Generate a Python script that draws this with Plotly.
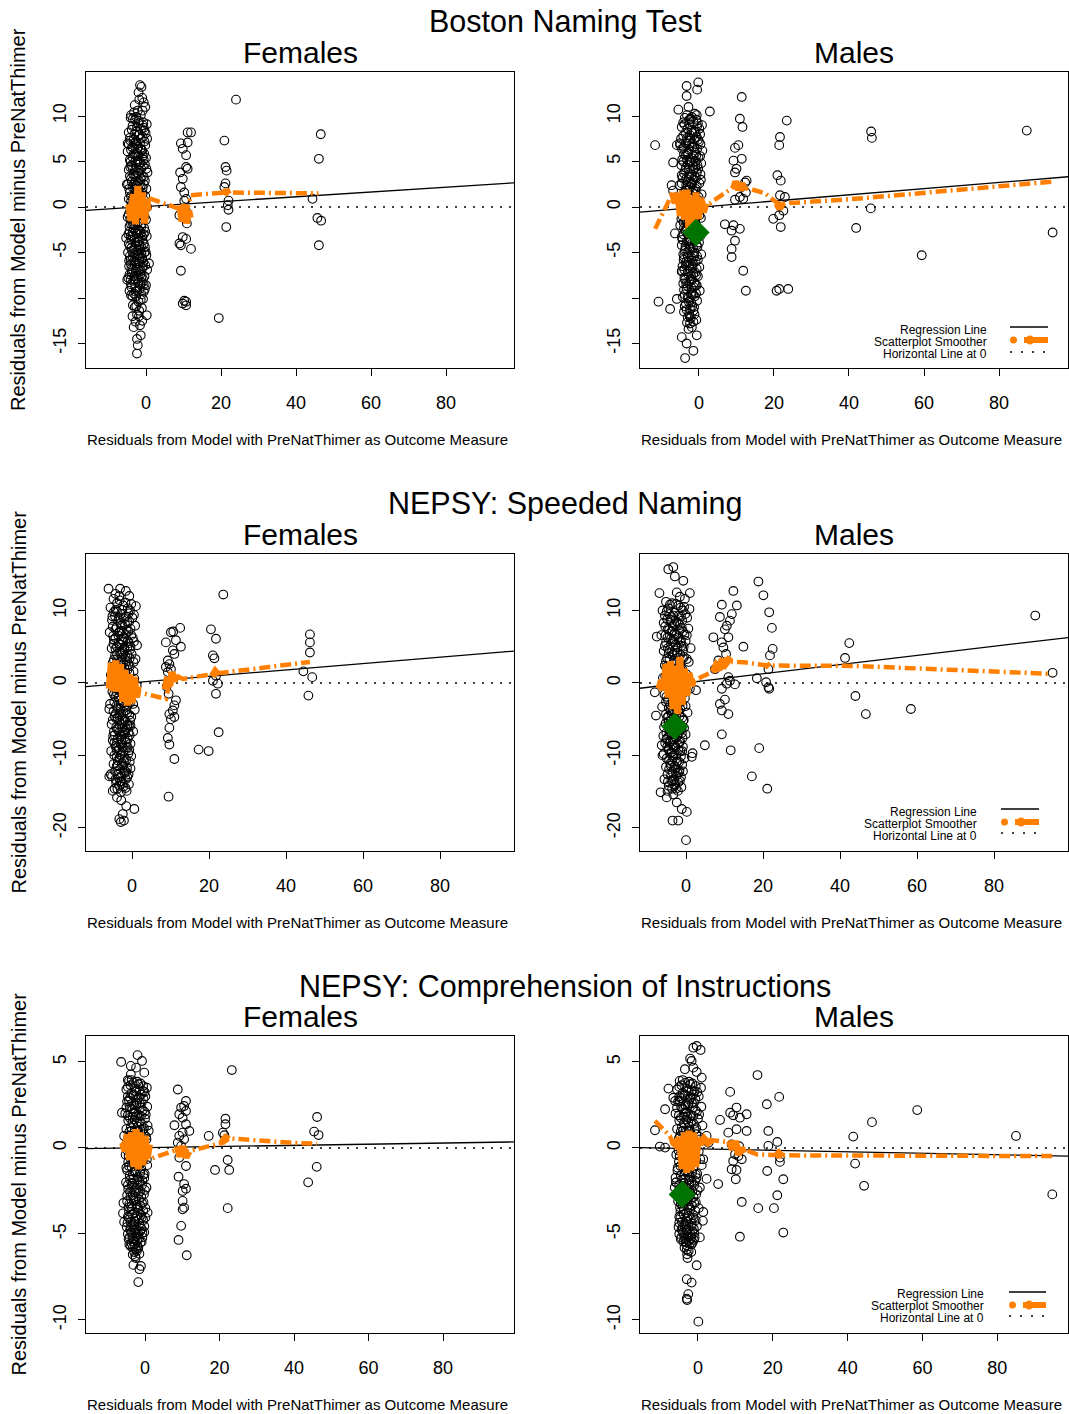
import plotly.graph_objects as go

W, H = 1069, 1414
FONT = "Liberation Sans, Arial, Helvetica, sans-serif"
ORANGE = "#FF8000"
GREEN = "#007300"

# ---------------------------------------------------------------------------
# Residual pairs: x = residual from model with PreNatThimer as outcome,
#                 y = residual from outcome model without PreNatThimer
# ---------------------------------------------------------------------------
bnt_f_pts = [
    (-1.6, 13.4), (-1.2, 13.2), (-2.0, 12.6), (-1.0, 12.0), (-1.8, 11.8), (-0.6, 11.5), (-0.2, 11.0), (-3.2, 10.4), (-1.4, 10.1), (-2.6, 9.9),
    (-4.1, 9.8), (-2.9, 9.6), (-1.9, 9.5), (-0.7, 9.3), (0.2, 9.1), (-3.6, 8.9), (-2.4, 8.8), (-1.3, 8.6), (-0.4, 8.4), (-4.6, 8.2),
    (-3.1, 8.0), (-2.0, 7.9), (-0.9, 7.7), (0.3, 7.5), (-4.2, 7.3), (-2.7, 7.2), (-1.6, 7.0), (-0.2, 6.8), (-3.7, 6.6), (-2.3, 6.4),
    (-1.2, 6.3), (-4.9, 6.1), (-0.5, 5.9), (-3.3, 5.8), (-2.0, 5.6), (0.0, 5.4), (-4.3, 5.2), (-2.8, 5.1), (-1.5, 4.9), (-3.9, 4.6),
    (-0.8, 4.5), (-2.5, 4.3), (-4.6, 4.1), (-1.8, 4.0), (0.4, 3.8), (-3.4, 3.6), (-1.1, 3.4), (-2.9, 3.3), (-4.0, 3.1), (-0.3, 2.9),
    (-2.2, 2.7), (-4.8, 2.5), (-1.4, 2.4), (-3.6, 2.2), (0.1, 2.0), (-2.6, 1.8), (-4.3, 1.6), (-0.9, 1.5), (-3.1, 1.3), (-1.9, 1.1),
    (-4.6, 0.9), (-0.4, 0.7), (-2.7, 0.5), (-3.8, 0.3), (-1.3, 0.2), (0.3, 0.0), (-2.2, -0.2), (-4.2, -0.4), (-0.8, -0.5), (-3.3, -0.7),
    (-1.7, -0.9), (-4.9, -1.1), (-2.6, -1.2), (0.0, -1.4), (-3.7, -1.6), (-1.1, -1.8), (-2.9, -2.0), (-4.4, -2.1), (-0.5, -2.3), (-2.0, -2.5),
    (-3.5, -2.7), (-1.4, -2.9), (-4.7, -3.0), (0.2, -3.2), (-2.4, -3.4), (-3.9, -3.6), (-0.9, -3.7), (-2.8, -3.9), (-1.8, -4.1), (-4.3, -4.3),
    (-0.3, -4.4), (-3.2, -4.6), (-2.1, -4.8), (-4.8, -5.0), (-1.2, -5.1), (0.1, -5.3), (-3.6, -5.5), (-2.5, -5.7), (-4.1, -5.8), (-0.7, -6.0),
    (-1.9, -6.2), (-3.0, -6.4), (-4.5, -6.5), (-1.0, -6.7), (0.3, -6.9), (-2.7, -7.1), (-3.8, -7.2), (-1.5, -7.4), (-0.4, -7.6), (-4.7, -7.8),
    (-2.3, -7.9), (-3.4, -8.1), (-1.1, -8.3), (-4.0, -8.5), (0.0, -8.6), (-2.9, -8.8), (-1.7, -9.0), (-4.4, -9.2), (-0.6, -9.3), (-3.2, -9.5),
    (-4.9, 7.0), (-5.1, 2.5), (-5.3, -3.4), (0.8, -6.2), (-5.0, -8.0),
    (-4.0, -9.7), (-0.8, -10.1), (-3.5, -10.8), (-1.8, -11.4), (0.2, -11.9), (-2.8, -12.6), (-1.6, -13.0), (-1.4, -14.1), (-2.4, -14.5), (-2.2, -15.2), (-2.4, -16.1),
    (11.1, 8.2), (12.0, 8.2), (9.3, 7.0), (9.8, 6.4), (11.1, 7.1), (10.7, 5.7), (10.7, 4.4), (11.1, 4.2), (9.1, 3.8), (9.8, 3.1),
    (9.3, 2.2), (10.2, 1.6), (10.7, 0.9), (10.2, 0.7), (8.9, -0.9), (10.7, -0.5), (10.2, -1.2), (10.9, -1.8), (9.8, -3.3), (10.7, -3.5),
    (8.9, -4.0), (9.3, -4.2), (12.0, -4.6), (9.3, -7.0), (10.2, -10.3), (10.7, -10.4), (9.8, -10.6), (10.7, -10.8),
    (24.0, 11.8), (20.9, 7.3), (21.2, 4.4), (21.5, 4.0), (21.2, 2.6), (20.9, 2.2), (22.0, 0.7), (21.8, 0.2), (22.0, -0.3), (21.4, -2.2), (19.4, -12.2),
    (46.6, 8.0), (46.1, 5.3), (44.4, 0.9), (45.7, -1.2), (46.7, -1.5), (46.1, -4.2),
]
bnt_f_core = [
    (-3.5, 9.7), (-0.9, 9.0), (-2.6, 8.3), (-4.3, 7.6), (-1.4, 7.5), (-0.1, 8.1), (-3.0, 7.0), (-2.1, 6.6), (-4.6, 6.9), (-1.0, 6.2),
    (-3.6, 5.5), (-2.4, 5.9), (-0.6, 5.2), (-1.8, 4.7), (-4.2, 4.4), (-3.0, 4.0), (0.1, 4.2), (-2.1, 3.7), (-1.4, 3.1), (-3.8, 2.8),
    (-0.6, 2.5), (-2.9, 2.0), (-4.5, 2.0), (-1.7, 1.7), (-3.4, 1.0), (-0.2, 1.2), (-2.3, 0.9), (-4.0, 0.6), (-1.0, 0.4), (-3.0, -0.1),
    (-1.9, -0.5), (-4.6, -0.8), (-0.4, -1.0), (-3.0, -1.4), (-2.2, -1.7), (-4.0, -1.9), (-1.3, -2.2), (-3.3, -2.4), (-0.2, -2.7), (-2.5, -2.9),
    (-4.1, -3.2), (-1.0, -3.3), (-3.1, -3.5), (-1.9, -3.7), (-4.6, -4.0), (-0.6, -4.0), (-2.7, -4.3), (-3.7, -4.8), (-1.5, -4.7), (-0.1, -4.9),
    (-2.2, -5.3), (-4.3, -5.4), (-1.0, -5.6), (-3.2, -5.9), (-1.8, -6.0), (-4.0, -6.3), (-0.2, -6.4), (-2.5, -6.7), (-3.5, -6.9), (-1.3, -7.0),
    (-4.4, -7.4), (-2.0, -7.6), (-0.8, -7.9), (-3.0, -8.0), (-1.5, -8.5), (-3.9, -8.8), (-2.3, -9.2), (-0.3, -9.0), (-1.2, -9.6), (-2.6, -9.8),
    (-3.0, 11.2), (-2.2, 10.6), (-0.9, 10.6), (-4.0, 10.1), (-2.0, -10.4), (-3.0, -11.0), (-1.1, -11.1), (-2.4, -11.8), (-3.6, -12.0), (-1.0, -12.5),
]
bnt_f_inner = [
    (-2.0, 9.2), (-3.8, 8.5), (-0.6, 8.7), (-1.7, 8.0), (-3.3, 7.4), (-0.4, 7.2), (-2.5, 6.9), (-4.0, 6.3), (-1.5, 6.4), (-2.9, 5.7),
    (-0.9, 5.6), (-4.1, 5.0), (-2.2, 5.0), (-0.3, 4.7), (-3.5, 4.2), (-1.3, 4.2), (-2.6, 3.5), (-4.3, 3.4), (-0.6, 3.3), (-1.9, 2.9),
    (-3.2, 2.5), (-0.9, 2.1), (-2.5, 2.3), (-4.0, 1.2), (-1.5, 1.3), (-2.9, 0.8), (-0.5, 0.3), (-3.6, -0.3), (-1.5, -0.3), (-2.6, -0.7),
    (-4.2, -1.3), (-0.9, -1.3), (-3.4, -2.0), (-1.7, -2.6), (-2.8, -2.7), (-4.4, -2.7), (-0.6, -3.0), (-3.6, -3.2), (-2.2, -3.8), (-1.3, -4.4),
    (-3.9, -4.5), (-0.4, -5.0), (-2.9, -5.2), (-1.6, -5.5), (-4.5, -5.9), (-2.9, -6.0), (-0.8, -6.5), (-2.1, -6.9), (-3.9, -6.8), (-1.2, -7.7),
    (-3.1, -7.6), (-2.0, -8.3), (-4.1, -8.0), (-0.6, -8.5), (-2.7, -9.3), (-3.6, -9.8), (-1.4, -10.2), (-2.6, -10.9), (-1.9, -12.0), (-3.3, -13.2),
]

bnt_m_pts = [
    (-3.3, 13.3), (-0.2, 13.7), (-0.5, 12.9), (-3.3, 12.2), (-5.5, 10.7), (-2.8, 11.0), (2.9, 10.5), (-1.1, 10.25), (-0.6, 10.1),
    (-3.8, 9.8), (-2.6, 9.6), (-1.5, 9.4), (-0.3, 9.2), (0.8, 9.0), (-4.6, 8.8), (-3.1, 8.6), (-2.0, 8.4), (-0.9, 8.2), (0.3, 8.0),
    (-4.2, 7.8), (-2.4, 7.6), (-1.2, 7.4), (0.0, 7.2), (-3.5, 7.0), (-5.0, 6.8), (-1.8, 6.6), (-0.5, 6.4), (0.9, 6.2), (-2.9, 6.0),
    (-4.0, 5.8), (-1.4, 5.6), (-0.1, 5.4), (-3.2, 5.2), (-2.2, 5.0), (0.6, 4.8), (-4.7, 4.6), (-1.0, 4.4), (-2.7, 4.2), (-3.7, 4.0),
    (-0.6, 3.8), (0.4, 3.6), (-2.0, 3.4), (-4.4, 3.2), (-1.4, 3.0), (-3.0, 2.8), (0.1, 2.6), (-5.2, 2.4), (-2.4, 2.2), (-0.9, 2.0),
    (-3.6, 1.8), (-1.7, 1.6), (0.7, 1.4), (-4.1, 1.2), (-2.6, 1.0), (-0.3, 0.8), (-3.1, 0.6), (-1.2, 0.4), (-4.8, 0.2), (0.2, 0.0),
    (-2.1, -0.2), (-3.9, -0.4), (-0.7, -0.6), (-1.6, -0.8), (-4.4, -1.0), (0.5, -1.2), (-2.8, -1.4), (-3.4, -1.6), (-1.0, -1.8), (-5.0, -2.0),
    (-2.3, -2.2), (-0.2, -2.4), (-3.7, -2.6), (-1.5, -2.8), (-4.2, -3.0), (0.3, -3.2), (-2.7, -3.4), (-0.8, -3.6), (-3.3, -3.8), (-1.9, -4.0),
    (-4.6, -4.2), (-0.4, -4.4), (-2.5, -4.6), (-3.8, -4.8), (-1.2, -5.0), (0.6, -5.2), (-3.0, -5.4), (-2.0, -5.6), (-4.1, -5.8), (-0.9, -6.0),
    (-1.6, -6.2), (-3.5, -6.4), (0.1, -6.6), (-2.4, -6.8), (-4.5, -7.0), (-1.0, -7.2), (-2.9, -7.4), (-0.3, -7.6), (-3.9, -7.8), (-1.9, -8.0),
    (-2.6, -8.2), (-4.2, -8.4), (-0.6, -8.6), (-1.4, -8.8), (-3.3, -9.0), (0.2, -9.2), (-2.1, -9.4), (-3.8, -9.6), (-1.1, -9.8), (-2.8, -10.0),
    (-0.5, -10.3), (-3.5, -10.6), (-1.8, -10.9), (-2.4, -11.2), (-4.0, -11.5), (-1.2, -11.8), (-3.0, -12.1), (-0.7, -12.4), (-2.2, -12.2), (-1.5, -12.6),
    (-11.7, 6.8), (-6.9, 4.9), (-5.9, 6.8), (-5.1, 7.0), (-7.3, 2.4), (-6.9, 1.8), (-6.4, -2.9), (-4.6, -7.1), (-5.9, -10.1), (-10.8, -10.4), (-7.7, -11.2),
    (-2.4, -12.8), (-2.8, -13.4), (-4.6, -14.3), (-0.6, -14.1), (-3.3, -15.0), (-1.5, -15.8), (-3.7, -16.6),
    (11.4, 12.1), (10.9, 9.7), (11.6, 8.8), (10.5, 6.8), (9.6, 6.5), (9.2, 5.1), (11.4, 5.3), (10.0, 4.2), (9.6, 3.8), (12.7, 2.9),
    (12.3, 2.7), (11.4, 2.2), (12.5, 1.6), (9.6, 0.8), (11.8, 0.9), (10.9, 1.1), (6.9, -1.9), (9.2, -2.0), (10.9, -2.4), (8.7, -2.6),
    (9.6, -3.7), (8.7, -4.6), (8.7, -5.5), (11.8, -7.0), (12.5, -9.2),
    (23.4, 9.5), (21.6, 7.7), (21.4, 6.8), (20.9, 3.5), (21.8, 2.9), (21.6, 1.3), (22.9, 1.1), (22.5, -0.4), (21.4, -0.9), (19.8, -1.3),
    (21.8, -2.2), (20.7, -9.2), (21.4, -9.0), (23.8, -9.0),
    (41.9, -2.3), (45.9, 8.3), (46.1, 7.6), (45.8, -0.15), (59.4, -5.3), (87.4, 8.4), (94.3, -2.8),
]
bnt_m_core = [
    (-3.2, 10.1), (-1.9, 9.9), (-0.7, 9.6), (-4.2, 9.3), (-2.6, 9.1), (0.1, 8.6), (-1.3, 8.3), (-3.6, 8.1), (-2.4, 7.9), (-4.8, 7.5),
    (-0.6, 7.7), (-3.0, 7.3), (-1.8, 7.0), (0.4, 6.9), (-4.1, 6.5), (-2.6, 6.3), (-1.0, 6.0), (-3.5, 5.7), (0.3, 5.6), (-2.0, 5.4),
    (-4.5, 5.2), (-0.9, 5.0), (-3.0, 4.7), (-1.7, 4.5), (-0.2, 4.2), (-4.0, 3.7), (-2.6, 3.6), (-1.1, 3.3), (-3.4, 3.1), (0.5, 3.0),
    (-2.0, 2.7), (-4.6, 2.6), (-0.6, 2.3), (-3.2, 2.1), (-1.5, 1.8), (-4.0, 1.6), (-2.3, 1.3), (-0.1, 1.1), (-3.6, 0.9), (-1.8, 0.7),
    (-4.3, 0.5), (-0.8, 0.3), (-2.7, 0.1), (-1.3, -0.4), (-3.2, -0.7), (0.1, -0.9), (-2.2, -1.1), (-4.7, -1.3), (-1.0, -1.5), (-3.0, -1.9),
    (-2.0, -2.4), (-4.0, -2.3), (-0.6, -2.9), (-3.0, -3.0), (-1.2, -3.3), (-4.4, -3.6), (-2.3, -3.8), (0.0, -3.9), (-3.6, -4.3), (-1.6, -4.5),
    (-2.9, -5.0), (-4.2, -5.2), (-0.5, -5.4), (-1.9, -5.9), (-3.4, -6.0), (-2.6, -6.4), (-0.6, -6.8), (-3.9, -6.9), (-1.5, -7.3), (-2.2, -7.9),
    (-3.4, -8.4), (-0.9, -8.6), (-2.0, -8.9), (-4.0, -9.1), (-1.6, -9.6), (-3.0, -9.9), (-2.1, -10.5), (-3.3, -11.3), (-1.3, -11.0), (-2.6, -11.7),
]
bnt_m_inner = [
    (-2.2, 9.7), (-3.9, 9.1), (-0.5, 8.9), (-1.8, 8.2), (-3.2, 7.6), (-0.3, 7.4), (-2.5, 7.0), (-4.5, 6.4), (-1.3, 6.6), (-3.1, 5.9),
    (-0.7, 5.7), (-4.2, 5.0), (-2.4, 4.9), (-0.4, 4.6), (-3.5, 4.3), (-1.4, 4.1), (-2.7, 3.3), (-4.6, 3.5), (-0.8, 3.2), (-1.9, 2.5),
    (-3.4, 2.4), (-0.9, 1.7), (-2.7, 1.9), (-4.4, 1.0), (-1.5, 1.1), (-3.0, 0.3), (-0.5, 0.1), (-3.8, -0.7), (-1.7, -0.4), (-2.5, -1.1),
    (-4.1, -1.7), (-0.8, -2.0), (-3.3, -2.3), (-1.8, -2.6), (-2.9, -3.7), (-4.6, -3.3), (-0.6, -4.2), (-3.6, -4.6), (-2.2, -4.4), (-1.3, -5.4),
    (-4.0, -5.5), (-0.3, -5.8), (-2.9, -6.1), (-1.7, -6.6), (-4.4, -6.5), (-3.0, -7.1), (-0.8, -7.5), (-2.1, -7.6), (-3.7, -8.0), (-1.2, -8.3),
    (-3.0, -8.7), (-2.1, -9.6), (-4.3, -9.9), (-0.8, -9.5), (-2.7, -10.4), (-3.8, -10.9), (-1.5, -11.4), (-2.5, -12.0), (-3.2, -12.7), (-1.9, -13.2),
]

sn_f_pts = [
    (-6.1, 13.0), (-3.1, 13.0), (-1.6, 12.7), (-0.7, 12.0), (-3.3, 12.0), (-4.3, 12.3),
    (-4.8, 11.6), (-3.2, 11.4), (-1.7, 11.1), (-0.2, 10.9), (1.0, 10.6), (-5.6, 10.4), (-2.5, 10.1), (-3.9, 9.9), (-0.9, 9.6), (0.5, 9.4),
    (-4.4, 9.2), (-2.1, 8.9), (-5.2, 8.7), (-1.2, 8.4), (-3.0, 8.2), (0.8, 7.9), (-4.0, 7.7), (-0.4, 7.5), (-2.7, 7.2), (-5.8, 7.0),
    (-1.6, 6.7), (-3.5, 6.5), (0.2, 6.2), (-4.7, 6.0), (-2.3, 5.7), (-0.8, 5.5), (1.3, 5.2), (-3.9, 5.0), (-5.3, 4.8), (-1.9, 4.5),
    (-3.1, 4.3), (-0.1, 4.0), (-4.4, 3.8), (-2.6, 3.5), (0.9, 3.3), (-1.3, 3.0), (-5.0, 2.8), (-3.6, 2.6), (-0.6, 2.3), (-2.0, 2.1),
    (-4.1, 1.8), (0.4, 1.6), (-2.8, 1.3), (-5.5, 1.1), (-1.5, 0.8), (-3.3, 0.6), (-0.3, 0.3), (-4.6, 0.1), (-2.2, -0.2), (1.2, -0.4),
    (-3.8, -0.7), (-1.0, -0.9), (-5.1, -1.2), (-2.5, -1.4), (0.1, -1.7), (-4.3, -1.9), (-1.8, -2.2), (-3.1, -2.4), (-0.5, -2.7), (-5.7, -2.9),
    (-2.0, -3.2), (-3.6, -3.4), (0.7, -3.7), (-4.8, -3.9), (-1.3, -4.2), (-2.8, -4.4), (-0.2, -4.7), (-4.1, -4.9), (-3.3, -5.2), (-1.6, -5.4),
    (-5.3, -5.7), (-0.8, -5.9), (-2.4, -6.2), (-3.9, -6.4), (0.3, -6.7), (-1.9, -6.9), (-4.5, -7.2), (-3.0, -7.4), (-1.1, -7.7), (-5.0, -7.9),
    (-2.6, -8.2), (-0.4, -8.4), (-4.2, -8.7), (-1.6, -8.9), (-3.4, -9.2), (-5.4, -9.4), (-0.9, -9.7), (-2.9, -9.9), (-4.0, -10.2), (-1.9, -10.4),
    (-3.7, -10.7), (-0.6, -10.9), (-4.8, -11.2), (-2.3, -11.4), (-1.3, -11.7), (-3.1, -11.9), (-4.4, -12.2), (-2.0, -12.4), (-0.9, -12.6), (-5.2, -12.9),
    (-3.4, -13.1), (-1.6, -13.3), (-2.7, -13.6), (-4.1, -13.8), (-0.8, -14.0), (-2.2, -14.3), (-3.8, -14.6), (-1.4, -14.9),
    (-5.9, -3.6), (-5.5, -12.6), (-5.9, -12.9),
    (-5.0, -14.9), (-3.9, -15.8), (-2.8, -16.2), (-1.5, -17.0), (0.6, -17.4), (-2.4, -18.1), (-3.3, -18.8), (-2.1, -19.0), (-2.9, -19.2),
    (12.5, 7.6), (10.7, 7.1), (10.1, 7.0), (8.8, 5.6), (11.4, 5.9), (12.7, 5.0), (10.6, 4.5), (11.0, 4.0), (9.3, 3.1), (9.7, 2.6),
    (8.8, 2.2), (10.1, 1.9), (9.3, 1.5), (9.0, -0.5), (9.5, -1.5), (11.4, -2.4), (11.0, -3.1), (10.6, -3.8), (9.7, -4.3), (11.0, -4.7),
    (10.1, -5.0), (9.7, -6.2), (9.3, -7.6), (9.7, -8.5), (11.0, -10.5), (9.5, -15.7),
    (23.7, 12.2), (20.5, 7.4), (21.8, 6.1), (21.0, 3.8), (21.4, 3.4), (21.8, 1.0), (21.0, 0.3), (22.3, -0.1), (21.8, -1.5), (22.5, -6.8),
    (17.3, -9.2), (19.9, -9.4),
    (46.2, 6.7), (46.2, 5.6), (46.2, 4.2), (44.5, 1.6), (46.8, 0.8), (45.8, -1.75),
]
sn_f_core = [
    (-3.9, 11.0), (-1.1, 10.3), (-4.7, 9.8), (-2.9, 9.5), (0.1, 9.0), (-3.6, 8.6), (-1.8, 8.1), (-5.0, 7.8), (-0.9, 7.1), (-3.3, 6.9),
    (-2.1, 6.3), (-4.3, 6.2), (0.5, 5.7), (-1.2, 5.0), (-3.1, 5.3), (-4.8, 5.4), (-2.4, 4.3), (-0.5, 4.6), (-3.9, 4.0), (-1.7, 3.6),
    (0.4, 2.9), (-4.7, 3.2), (-2.9, 2.9), (-1.0, 2.5), (-3.8, 2.2), (-2.2, 1.6), (-0.7, 1.4), (-4.4, 1.2), (-3.1, 0.4), (0.6, 0.6),
    (-1.8, 0.1), (-5.2, -0.2), (-2.9, -0.8), (-0.6, -1.2), (-4.0, -1.3), (-1.6, -1.6), (-3.5, -2.0), (-2.4, -2.7), (-4.6, -2.6), (0.3, -2.9),
    (-1.3, -3.3), (-3.0, -3.6), (-4.2, -4.2), (-2.2, -4.0), (-0.7, -4.4), (-3.7, -4.8), (-1.9, -5.2), (-5.0, -5.1), (-2.8, -5.7), (-0.4, -5.9),
    (-4.1, -6.1), (-1.5, -6.4), (-3.3, -6.8), (-2.2, -7.1), (-4.9, -7.3), (-0.6, -7.2), (-3.7, -7.7), (-1.8, -7.9), (-2.9, -8.5), (-4.6, -8.3),
    (-1.1, -8.9), (-3.9, -9.4), (-2.3, -9.5), (-0.2, -10.1), (-4.6, -10.0), (-1.5, -10.6), (-3.2, -10.4), (-2.6, -11.1), (-4.0, -11.5), (-0.4, -11.8),
    (-1.9, -12.1), (-3.6, -12.6), (-2.8, -12.9), (-1.2, -13.0), (-4.3, -13.3), (-2.4, -13.8), (-3.3, -14.2), (-1.7, -14.5), (-2.9, -15.1), (-4.5, -14.6),
]
sn_f_inner = [
    (-2.3, 10.7), (-4.2, 10.1), (-0.5, 10.0), (-1.6, 9.2), (-3.4, 9.0), (-5.1, 9.2), (-0.7, 8.5), (-2.6, 8.0), (-4.3, 7.4), (-1.4, 7.3),
    (-3.2, 7.1), (-0.2, 6.6), (-2.6, 6.0), (-4.9, 6.5), (-1.1, 5.8), (-3.5, 5.5), (-2.0, 4.9), (-0.4, 5.0), (-4.3, 4.7), (-2.8, 4.0),
    (-1.2, 3.9), (-3.9, 3.3), (-0.6, 3.4), (-2.2, 2.7), (-4.7, 2.3), (-3.0, 1.8), (-1.2, 1.8), (-3.8, 0.9), (-0.9, 0.6), (-2.6, 0.2),
    (-4.3, -0.4), (-1.3, -0.3), (-3.3, -1.1), (-0.2, -1.1), (-2.0, -1.9), (-4.7, -1.6), (-2.9, -2.9), (-0.9, -2.6), (-4.1, -3.2), (-1.7, -3.8),
    (-3.3, -4.3), (-0.5, -5.2), (-4.5, -4.6), (-2.4, -5.0), (-1.2, -5.8), (-3.6, -6.2), (-2.0, -6.6), (-4.7, -6.7), (-0.9, -6.8), (-2.8, -7.8),
    (-3.9, -8.2), (-1.4, -8.2), (-2.4, -8.9), (-4.1, -9.0), (-0.7, -9.3), (-3.0, -10.0), (-2.1, -10.9), (-3.7, -11.4), (-1.5, -12.3), (-3.1, -13.6),
]

sn_m_pts = [
    (-4.6, 15.7), (-3.3, 16.0), (-2.9, 14.7), (-0.7, 14.1), (-6.9, 12.4), (-2.4, 12.5), (1.0, 12.4), (-1.6, 11.9), (-0.3, 11.6),
    (-5.2, 11.2), (-3.6, 11.0), (-2.0, 10.7), (-0.5, 10.5), (0.9, 10.2), (-6.1, 10.0), (-2.9, 9.7), (-4.4, 9.5), (-1.3, 9.2), (0.3, 9.0),
    (-4.9, 8.8), (-2.5, 8.5), (-5.8, 8.3), (-1.6, 8.0), (-3.4, 7.8), (0.6, 7.5), (-4.4, 7.3), (-0.8, 7.1), (-3.0, 6.8), (-6.4, 6.6),
    (-2.0, 6.3), (-3.9, 6.1), (-0.1, 5.8), (-5.2, 5.6), (-2.7, 5.3), (-1.2, 5.1), (1.2, 4.8), (-4.3, 4.6), (-5.8, 4.4), (-2.3, 4.1),
    (-3.5, 3.9), (-0.5, 3.6), (-4.9, 3.4), (-3.0, 3.1), (0.7, 2.9), (-1.7, 2.6), (-5.5, 2.4), (-4.0, 2.2), (-1.0, 1.9), (-2.4, 1.7),
    (-4.6, 1.4), (0.1, 1.2), (-3.2, 0.9), (-6.0, 0.7), (-1.9, 0.4), (-3.7, 0.2), (-0.7, -0.1), (-5.1, -0.3), (-2.6, -0.6), (1.0, -0.8),
    (-4.2, -1.1), (-1.4, -1.3), (-5.6, -1.6), (-2.9, -1.8), (-0.3, -2.1), (-4.7, -2.3), (-2.2, -2.6), (-3.5, -2.8), (-0.9, -3.1), (-6.2, -3.3),
    (-2.4, -3.6), (-4.0, -3.8), (0.4, -4.1), (-5.2, -4.3), (-1.7, -4.6), (-3.2, -4.8), (-0.6, -5.1), (-4.5, -5.3), (-3.7, -5.6), (-2.0, -5.8),
    (-5.7, -6.1), (-1.2, -6.3), (-2.8, -6.6), (-4.3, -6.8), (-0.1, -7.1), (-2.3, -7.3), (-4.9, -7.6), (-3.4, -7.8), (-1.5, -8.1), (-5.4, -8.3),
    (-3.0, -8.6), (-0.8, -8.8), (-4.6, -9.1), (-2.0, -9.3), (-3.8, -9.6), (-5.8, -9.8), (-1.3, -10.1), (-3.3, -10.3), (-4.4, -10.6), (-2.3, -10.8),
    (-4.1, -11.1), (-1.0, -11.3), (-5.2, -11.6), (-2.7, -11.8), (-1.7, -12.1), (-3.5, -12.3), (-4.8, -12.6), (-2.4, -12.8), (-1.3, -13.0), (-5.6, -13.3),
    (-3.8, -13.5), (-2.0, -13.7), (-3.1, -14.0), (-4.5, -14.2), (-1.2, -14.4), (-2.6, -14.6),
    (-7.6, 6.4), (-8.1, -1.3), (-7.8, -4.5), (-5.9, -7.3), (-6.3, -8.6), (-6.1, -10.0),
    (2.6, -1.0), (1.7, -9.7), (1.5, -10.2),
    (-6.6, -15.1), (-5.0, -15.8), (-2.4, -16.5), (-1.1, -17.4), (0.2, -17.8), (-3.5, -19.0), (-2.0, -19.0), (0.0, -21.7),
    (12.3, 12.7), (9.3, 10.8), (13.2, 10.7), (8.8, 9.1), (11.9, 9.5), (11.4, 8.6), (10.6, 7.9), (10.1, 7.4), (11.0, 6.3), (7.1, 6.3),
    (9.3, 5.6), (9.7, 4.9), (10.4, 4.0), (14.9, 5.0), (8.4, 3.1), (8.8, 2.4), (7.5, 1.9), (11.0, 0.8), (11.4, 0.3), (10.6, -0.1),
    (12.7, -0.2), (9.3, -0.8), (10.1, -2.3), (8.8, -2.9), (11.0, -4.3), (9.3, -3.8), (9.3, -7.1), (4.9, -8.6), (11.6, -9.3),
    (18.8, 14.0), (20.1, 12.1), (21.6, 9.75), (22.3, 7.6), (22.5, 4.7), (21.8, 3.8), (21.4, 1.9), (18.4, 0.65), (20.8, 0.1), (21.4, -0.6),
    (21.6, -0.8), (19.0, -9.0), (17.1, -12.9), (21.1, -14.6),
    (42.4, 5.5), (41.3, 3.45), (44.0, -1.8), (46.7, -4.3), (58.4, -3.6), (90.7, 9.3), (95.2, 1.4),
]
sn_m_core = [
    (-4.2, 10.8), (-1.4, 10.4), (-5.0, 9.9), (-3.3, 9.3), (-0.2, 9.5), (-4.0, 8.7), (-2.1, 8.3), (-5.4, 7.8), (-1.1, 7.6), (-3.8, 7.1),
    (-2.6, 6.6), (-4.8, 6.3), (0.2, 6.6), (-1.5, 5.6), (-3.4, 5.8), (-5.5, 5.1), (-2.9, 4.5), (-0.8, 4.4), (-4.5, 4.1), (-2.0, 3.5),
    (0.2, 3.3), (-5.2, 3.0), (-3.4, 2.7), (-1.4, 2.3), (-4.3, 1.9), (-2.7, 1.3), (-0.9, 1.0), (-5.4, 0.9), (-3.6, 0.5), (0.3, 0.3),
    (-2.2, -0.2), (-4.6, -0.6), (-3.2, -1.1), (-0.8, -1.5), (-4.0, -1.7), (-1.9, -2.0), (-5.2, -2.6), (-2.7, -2.9), (-4.1, -3.0), (-0.1, -3.2),
    (-1.5, -3.6), (-3.5, -3.9), (-4.6, -4.6), (-2.5, -4.3), (-1.0, -4.8), (-3.9, -5.1), (-2.2, -5.5), (-5.3, -5.6), (-3.1, -6.1), (-0.5, -6.2),
    (-4.4, -6.3), (-1.8, -6.8), (-3.7, -7.1), (-2.6, -7.6), (-5.1, -7.8), (-0.9, -7.6), (-4.0, -8.1), (-2.1, -8.4), (-3.2, -8.9), (-4.9, -8.8),
    (-1.5, -9.4), (-4.2, -9.7), (-2.6, -9.9), (-0.4, -10.4), (-5.0, -10.4), (-1.8, -10.9), (-3.6, -10.8), (-2.9, -11.5), (-4.4, -11.9), (-0.8, -12.2),
    (-2.2, -12.4), (-3.9, -12.8), (-3.1, -13.3), (-1.6, -13.5), (-4.7, -13.6), (-2.8, -14.1), (-3.6, -14.6), (-2.1, -14.9), (-3.3, -15.4), (-4.8, -14.9),
]
sn_m_inner = [
    (-2.6, 10.9), (-4.6, 10.3), (-0.8, 10.0), (-1.9, 9.3), (-3.8, 9.1), (-5.5, 9.3), (-1.0, 8.6), (-2.9, 8.0), (-4.7, 7.5), (-1.8, 7.3),
    (-3.5, 7.2), (-0.4, 6.7), (-3.0, 6.0), (-5.3, 6.6), (-1.3, 5.8), (-3.9, 5.4), (-2.2, 4.9), (-0.6, 5.0), (-4.7, 4.8), (-3.1, 4.0),
    (-1.5, 3.9), (-4.3, 3.2), (-0.8, 3.4), (-2.6, 2.8), (-5.1, 2.2), (-3.3, 1.8), (-1.4, 1.8), (-4.1, 0.9), (-1.2, 0.6), (-2.9, 0.2),
    (-4.8, -0.3), (-1.6, -0.4), (-3.7, -1.2), (-0.4, -1.1), (-2.3, -1.9), (-5.1, -1.9), (-3.2, -2.9), (-1.2, -2.6), (-4.5, -3.4), (-2.0, -3.8),
    (-3.7, -4.3), (-0.7, -5.2), (-4.9, -4.8), (-2.7, -5.0), (-1.4, -5.8), (-4.0, -6.2), (-2.3, -6.6), (-5.1, -6.9), (-1.1, -6.9), (-3.1, -7.8),
    (-4.3, -8.3), (-1.7, -8.2), (-2.7, -8.9), (-4.5, -9.2), (-1.0, -9.4), (-3.3, -10.0), (-2.4, -10.9), (-4.0, -11.4), (-1.8, -12.3), (-3.4, -13.6),
]

ci_f_pts = [
    (-6.4, 5.0), (-2.0, 5.4), (-0.8, 5.06), (-3.8, 4.77), (-2.4, 4.67), (-0.2, 4.38), (-4.6, 3.95), (-3.8, 4.28),
    (-4.3, 3.9), (-3.0, 3.8), (-1.8, 3.7), (-0.5, 3.6), (0.5, 3.5), (-5.0, 3.4), (-2.4, 3.3), (-3.6, 3.2), (-1.1, 3.1), (0.1, 3.0),
    (-4.0, 2.9), (-2.0, 2.8), (-4.8, 2.7), (-1.4, 2.6), (-3.0, 2.5), (0.6, 2.4), (-3.7, 2.3), (-0.6, 2.2), (-2.6, 2.1), (-5.3, 2.0),
    (-1.6, 1.9), (-3.3, 1.8), (0.0, 1.7), (-4.5, 1.6), (-2.2, 1.5), (-0.9, 1.4), (0.7, 1.3), (-3.8, 1.2), (-5.0, 1.1), (-1.9, 1.0),
    (-2.9, 0.9), (-0.3, 0.8), (-4.2, 0.7), (-2.6, 0.6), (0.4, 0.5), (-1.4, 0.4), (-4.9, 0.3), (-3.5, 0.2), (-0.8, 0.1), (-2.1, 0.0),
    (-4.0, -0.1), (0.2, -0.2), (-2.9, -0.3), (-5.2, -0.4), (-1.6, -0.5), (-3.3, -0.6), (-0.5, -0.7), (-4.5, -0.8), (-2.3, -0.9), (0.6, -1.0),
    (-3.6, -1.1), (-1.0, -1.2), (-4.8, -1.3), (-2.5, -1.4), (-0.1, -1.5), (-4.1, -1.6), (-1.9, -1.7), (-3.1, -1.8), (-0.7, -1.9), (-5.1, -2.0),
    (-2.0, -2.1), (-3.5, -2.2), (0.4, -2.3), (-4.5, -2.4), (-1.3, -2.5), (-2.7, -2.6), (-0.3, -2.7), (-3.9, -2.8), (-3.1, -2.9), (-1.6, -3.0),
    (-4.8, -3.1), (-0.8, -3.2), (-2.3, -3.3), (-3.7, -3.4), (0.1, -3.5), (-1.8, -3.6), (-4.3, -3.7), (-2.9, -3.8), (-1.1, -3.9), (-4.6, -4.0),
    (-2.5, -4.1), (-0.5, -4.2), (-3.9, -4.3), (-1.5, -4.4), (-3.2, -4.5), (-4.9, -4.6), (-0.9, -4.7), (-2.7, -4.8), (-3.7, -4.9), (-1.8, -5.0),
    (-3.4, -5.1), (-0.7, -5.2), (-4.4, -5.3), (-2.1, -5.4), (-1.2, -5.5), (-2.8, -5.6), (-3.9, -5.7), (-1.8, -5.8), (-2.4, -5.9),
    (-6.2, 2.05), (-5.6, 0.7), (-5.8, -3.2), (-5.9, -3.8), (-5.6, -4.3),
    (1.0, 1.0), (0.7, -3.76), (0.1, -4.05), (-0.2, -4.9),
    (-4.2, -5.6), (-3.3, -6.2), (-2.5, -6.4), (-3.1, -6.8), (-1.1, -6.86), (-1.5, -7.05), (-1.8, -7.8),
    (8.8, 3.4), (11.0, 2.73), (10.5, 2.44), (9.7, 2.35), (11.0, 2.15), (9.2, 1.96), (10.1, 1.76), (7.9, 1.32), (11.0, 1.38), (11.9, 0.99),
    (10.1, 0.89), (9.2, 0.7), (10.5, 0.5), (8.8, 0.31), (9.7, 0.12), (9.2, -0.56), (11.0, -1.05), (9.0, -1.67), (10.5, -2.1), (10.1, -2.5),
    (11.0, -2.37), (10.1, -3.08), (10.5, -3.47), (10.1, -3.57), (9.7, -4.53), (9.0, -5.35), (11.2, -6.24),
    (23.3, 4.53), (21.6, 1.7), (21.6, 1.38), (20.9, 0.89), (21.3, 0.74), (17.1, 0.7), (22.2, -0.7), (22.6, -1.28), (18.8, -1.28), (22.2, -3.5),
    (46.2, 1.8), (45.4, 0.95), (46.6, 0.75), (46.1, -1.1), (43.8, -2.0),
]
ci_f_core = [
    (-3.6, 3.95), (-1.2, 3.75), (-4.6, 3.55), (-2.7, 3.45), (-0.1, 3.25), (-3.2, 3.05), (-1.6, 2.95), (-4.3, 2.75), (-0.9, 2.65), (-2.4, 2.45),
    (-3.4, 2.25), (-5.0, 2.35), (0.2, 1.95), (-1.1, 1.85), (-2.8, 1.65), (-4.1, 1.75), (-2.0, 1.25), (-0.3, 1.15), (-3.6, 1.0), (-1.4, 0.75),
    (0.3, 0.65), (-4.6, 0.55), (-2.6, 0.35), (-1.0, 0.25), (-3.8, 0.05), (-2.2, -0.15), (-0.6, -0.35), (-4.4, -0.45), (-3.0, -0.75), (0.5, -0.65),
    (-1.9, -1.05), (-5.0, -1.15), (-2.9, -1.35), (-0.4, -1.55), (-4.0, -1.85), (-1.5, -1.95), (-3.4, -2.05), (-2.4, -2.35), (-4.8, -2.75), (0.0, -2.45),
    (-1.0, -2.85), (-3.0, -3.05), (-4.2, -3.25), (-2.0, -3.45), (-0.5, -3.65), (-3.4, -3.85), (-1.6, -4.15), (-4.7, -4.35), (-2.9, -4.45), (-0.2, -4.55),
    (-4.0, -4.75), (-1.3, -4.85), (-3.2, -5.25), (-2.3, -5.15), (-4.6, -5.0), (-0.9, -5.45), (-3.6, -5.55), (-2.0, -5.7), (-2.9, -6.05), (-1.5, -6.15),
]
ci_f_inner = [
    (-2.1, 3.85), (-3.9, 3.65), (-0.5, 3.3), (-1.4, 3.35), (-3.0, 3.1), (-4.6, 3.0), (-0.4, 2.85), (-2.2, 2.6), (-4.1, 2.4), (-1.1, 2.35),
    (-3.1, 2.05), (-0.1, 2.1), (-2.5, 1.8), (-4.6, 1.9), (-1.4, 1.55), (-3.4, 1.45), (-2.0, 0.95), (-0.6, 1.05), (-4.2, 0.95), (-2.9, 0.55),
    (-1.3, 0.55), (-3.9, 0.35), (-0.5, 0.35), (-2.4, 0.15), (-4.7, -0.15), (-3.2, -0.35), (-1.3, -0.25), (-3.8, -0.65), (-0.9, -0.85), (-2.6, -0.65),
    (-4.3, -1.05), (-1.3, -1.45), (-3.3, -1.55), (-0.2, -1.75), (-2.1, -1.85), (-4.6, -2.15), (-2.9, -2.45), (-0.8, -2.15), (-4.0, -2.55), (-1.7, -2.65),
    (-3.3, -2.75), (-0.4, -3.15), (-4.4, -3.45), (-2.5, -3.05), (-1.3, -3.35), (-3.5, -3.55), (-2.1, -3.95), (-4.4, -4.05), (-0.9, -4.05), (-2.8, -4.25),
    (-3.8, -4.6), (-1.4, -4.55), (-2.4, -4.75), (-4.2, -5.2), (-0.7, -4.95), (-3.0, -5.45), (-1.6, -5.25), (-3.3, -5.8), (-2.2, -6.0), (-2.6, -6.3),
]

ci_m_pts = [
    (-1.25, 5.83), (-0.35, 5.93), (0.7, 5.7), (-2.1, 5.2), (-1.7, 5.06), (-3.5, 4.58), (-1.25, 4.67), (-0.35, 4.42), (1.0, 4.09),
    (-4.9, 3.9), (-3.4, 3.8), (-2.0, 3.7), (-0.6, 3.6), (0.8, 3.5), (-5.6, 3.4), (-2.7, 3.3), (-4.1, 3.2), (-1.3, 3.1), (0.2, 3.0),
    (-4.6, 2.9), (-2.3, 2.8), (-5.3, 2.7), (-1.6, 2.6), (-3.4, 2.5), (0.9, 2.4), (-4.2, 2.3), (-0.7, 2.2), (-3.0, 2.1), (-6.0, 2.0),
    (-1.9, 1.9), (-3.7, 1.8), (0.0, 1.7), (-5.0, 1.6), (-2.6, 1.5), (-1.1, 1.4), (1.2, 1.3), (-4.3, 1.2), (-5.6, 1.1), (-2.2, 1.0),
    (-3.3, 0.9), (-0.4, 0.8), (-4.8, 0.7), (-2.9, 0.6), (0.6, 0.5), (-1.6, 0.4), (-5.4, 0.3), (-3.9, 0.2), (-0.9, 0.1), (-2.4, 0.0),
    (-4.5, -0.1), (0.2, -0.2), (-3.2, -0.3), (-5.8, -0.4), (-1.8, -0.5), (-3.7, -0.6), (-0.5, -0.7), (-5.1, -0.8), (-2.6, -0.9), (1.0, -1.0),
    (-4.0, -1.1), (-1.3, -1.2), (-5.5, -1.3), (-2.8, -1.4), (-0.2, -1.5), (-4.6, -1.6), (-2.1, -1.7), (-3.4, -1.8), (-0.8, -1.9), (-5.9, -2.0),
    (-2.3, -2.1), (-3.9, -2.2), (0.5, -2.3), (-5.0, -2.4), (-1.5, -2.5), (-3.1, -2.6), (-0.5, -2.7), (-4.4, -2.8), (-3.6, -2.9), (-1.9, -3.0),
    (-5.3, -3.1), (-1.0, -3.2), (-2.6, -3.3), (-4.1, -3.4), (0.2, -3.5), (-2.1, -3.6), (-4.7, -3.7), (-3.2, -3.8), (-1.3, -3.9), (-5.0, -4.0),
    (-2.8, -4.1), (-0.6, -4.2), (-4.3, -4.3), (-1.7, -4.4), (-3.6, -4.5), (-5.2, -4.6), (-1.1, -4.7), (-3.0, -4.8), (-4.0, -4.9), (-2.0, -5.0),
    (-3.7, -5.1), (-0.9, -5.2), (-4.6, -5.3), (-2.4, -5.4), (-1.5, -5.5), (-3.1, -5.5),
    (-7.9, 3.45), (-6.6, 2.92), (-6.1, 2.73), (-8.8, 2.25), (-11.5, 1.03), (-10.2, 0.08), (-8.8, 0.02), (-6.0, -1.73), (-5.8, -2.0), (-6.2, -2.3),
    (2.3, 0.7), (2.8, 0.3), (1.4, -0.66), (2.3, -1.8), (1.4, -3.72), (1.3, -4.24), (0.5, -5.2),
    (-3.0, -5.66), (-1.7, -5.6), (-2.9, -6.18), (-0.35, -6.82), (-3.0, -7.63), (-1.7, -7.83), (-2.6, -8.5), (-3.0, -8.76), (-2.9, -8.84), (0.1, -10.1),
    (8.6, 3.26), (10.3, 2.35), (8.6, 2.05), (9.4, 1.9), (13.0, 1.96), (11.2, 1.76), (5.9, 1.63), (10.3, 1.09), (8.1, 0.89), (13.0, 0.99),
    (9.9, -0.37), (10.8, -0.47), (11.7, -0.66), (9.4, -0.76), (9.0, -1.24), (10.3, -1.28), (10.1, -1.82), (11.7, -3.14), (11.2, -5.16), (5.4, -2.1),
    (9.0, 0.2), (11.0, 0.1),
    (15.9, 4.24), (18.4, 2.54), (21.7, 2.97), (18.8, 0.99), (21.2, 0.35), (18.8, 0.12), (21.9, -0.56), (21.9, -0.81), (18.5, -1.34), (22.8, -1.82),
    (21.2, -2.75), (16.1, -3.5), (20.3, -3.5), (22.8, -4.92),
    (41.5, 0.66), (42.0, -0.91), (46.5, 1.5), (44.4, -2.2), (58.6, 2.2), (85.0, 0.7), (94.7, -2.7),
]
ci_m_core = [
    (-4.1, 3.95), (-1.5, 3.75), (-5.0, 3.55), (-3.0, 3.45), (-0.2, 3.25), (-3.7, 3.05), (-1.9, 2.95), (-4.9, 2.75), (-1.1, 2.65), (-2.7, 2.45),
    (-3.9, 2.25), (-5.6, 2.35), (0.3, 1.95), (-1.3, 1.85), (-3.1, 1.65), (-4.6, 1.75), (-2.3, 1.25), (-0.5, 1.15), (-4.0, 1.0), (-1.7, 0.75),
    (0.3, 0.65), (-5.1, 0.55), (-2.9, 0.35), (-1.2, 0.25), (-4.2, 0.05), (-2.5, -0.15), (-0.8, -0.35), (-4.9, -0.45), (-3.4, -0.75), (0.6, -0.65),
    (-2.2, -1.05), (-5.4, -1.15), (-3.3, -1.35), (-0.6, -1.55), (-4.4, -1.85), (-1.7, -1.95), (-3.8, -2.05), (-2.7, -2.35), (-5.3, -2.75), (-0.1, -2.45),
    (-1.2, -2.85), (-3.4, -3.05), (-4.6, -3.25), (-2.3, -3.45), (-0.7, -3.65), (-3.8, -3.85), (-1.9, -4.15), (-5.0, -4.35), (-3.2, -4.45), (-0.3, -4.55),
    (-4.4, -4.75), (-1.5, -4.85), (-3.5, -5.25), (-2.6, -5.15), (-5.0, -5.0), (-1.1, -5.35), (-3.9, -5.45), (-2.2, -5.55), (-3.0, -5.9), (-1.8, -6.05),
]
ci_m_inner = [
    (-2.4, 3.85), (-4.4, 3.65), (-0.9, 3.3), (-1.7, 3.35), (-3.4, 3.1), (-5.0, 3.0), (-0.7, 2.85), (-2.5, 2.6), (-4.5, 2.4), (-1.4, 2.35),
    (-3.4, 2.05), (-0.3, 2.1), (-2.8, 1.8), (-5.1, 1.9), (-1.7, 1.55), (-3.7, 1.45), (-2.3, 0.95), (-0.9, 1.05), (-4.6, 0.95), (-3.2, 0.55),
    (-1.6, 0.55), (-4.3, 0.35), (-0.7, 0.35), (-2.7, 0.15), (-5.2, -0.15), (-3.5, -0.35), (-1.6, -0.25), (-4.1, -0.65), (-1.2, -0.85), (-2.9, -0.65),
    (-4.7, -1.05), (-1.6, -1.45), (-3.6, -1.55), (-0.4, -1.75), (-2.4, -1.85), (-5.0, -2.15), (-3.2, -2.45), (-1.0, -2.15), (-4.3, -2.55), (-2.0, -2.65),
    (-3.6, -2.75), (-0.6, -3.15), (-4.8, -3.45), (-2.8, -3.05), (-1.6, -3.35), (-3.8, -3.55), (-2.4, -3.95), (-4.7, -4.05), (-1.2, -4.05), (-3.1, -4.25),
    (-4.1, -4.6), (-1.7, -4.55), (-2.7, -4.75), (-4.5, -5.2), (-1.0, -4.95), (-3.3, -5.45), (-1.9, -5.25), (-3.6, -5.8), (-2.5, -6.0), (-2.8, -6.4),
]

# Least-squares fits: (intercept, slope)
bnt_f_fit = (0.064, 0.0265)
bnt_m_fit = (-0.02, 0.034)
sn_f_fit = (0.03, 0.044)
sn_m_fit = (0.02, 0.063)
ci_f_fit = (0.014, 0.0034)
ci_m_fit = (-0.047, -0.0043)

# Scatterplot smoother: overall path, and its wiggles inside the dense groups
bnt_f_smooth = [(-4.5, 0.2), (1.3, 0.9), (8.9, -0.2), (10.5, -1.0), (12.0, 1.3), (21.3, 1.6), (46.0, 1.5)]
bnt_f_wiggle = [(-4.6, 0.3), (-4.0, -1.5), (-3.4, 1.4), (-2.8, -1.9), (-2.2, 2.3), (-1.6, -1.2), (-1.0, 1.6), (-0.4, -1.8), (0.2, 0.9), (0.6, -0.4),
                (None, None), (9.0, 0.2), (9.6, -1.6), (10.2, 0.3), (10.8, -1.8), (11.4, -0.4), (11.8, -1.2),
                (None, None), (20.8, 1.3), (21.4, 1.9), (22.0, 1.4)]

bnt_m_smooth = [(-11.7, -2.4), (-7.3, 1.3), (-5.0, 0.5), (1.8, 0.4), (2.9, 0.4), (9.2, 2.2), (13.6, 2.0), (17.6, 1.5), (21.6, 0.2),
                (22.9, 0.4), (41.6, 0.9), (94.5, 2.8)]
bnt_m_wiggle = [(-7.0, 1.6), (-6.4, 0.4), (-5.6, 1.5), (-5.0, -1.0), (-4.4, 1.8), (-3.8, -1.4), (-3.2, 1.9), (-2.6, -3.3), (-2.0, 1.2),
                (-1.4, -2.5), (-0.8, 1.6), (-0.2, -1.3), (0.5, 1.0), (1.2, -0.6), (1.8, 0.4),
                (None, None), (9.2, 2.0), (9.8, 2.8), (10.6, 1.9), (11.4, 2.6), (12.2, 1.8),
                (None, None), (20.8, 0.4), (21.5, -0.2), (22.3, 0.5)]

sn_f_smooth = [(-5.9, -0.8), (1.9, -1.3), (8.8, -2.2), (9.5, -0.5), (11.6, 1.0), (13.2, 0.55), (21.8, 1.3), (43.9, 2.85), (46.2, 2.9)]
sn_f_wiggle = [(-5.9, -0.8), (-5.4, 2.8), (-4.8, -0.5), (-4.2, 3.1), (-3.6, -1.2), (-3.0, 2.6), (-2.4, -2.6), (-1.8, 1.8), (-1.2, -3.1),
               (-0.6, 1.2), (0.0, -2.8), (0.6, 0.8), (1.2, -2.0), (1.6, -0.5),
               (None, None), (8.6, -0.9), (9.2, 0.8), (9.8, -0.4), (10.4, 1.5), (11.0, 0.2), (11.6, 1.2),
               (None, None), (20.8, 0.9), (21.6, 1.6), (22.4, 1.1)]

sn_m_smooth = [(-7.2, -0.8), (1.9, 0.3), (6.7, 1.5), (11.8, 2.9), (15.0, 2.85), (21.4, 2.4), (43.9, 2.35), (95.0, 1.25)]
sn_m_wiggle = [(-7.0, -0.8), (-6.4, 0.4), (-5.8, -1.0), (-5.2, 2.6), (-4.6, -2.0), (-4.0, 3.0), (-3.4, -3.6), (-2.8, 2.4), (-2.2, -4.3),
               (-1.6, 3.6), (-1.0, -3.0), (-0.4, 2.0), (0.2, -1.8), (0.8, 1.4), (1.4, -0.4), (1.9, 0.4),
               (None, None), (7.0, 1.5), (7.8, 2.4), (8.6, 1.8), (9.4, 3.3), (10.2, 2.6), (11.0, 3.2), (11.8, 2.9),
               (None, None), (20.8, 2.6), (21.6, 2.2)]

ci_f_smooth = [(-6.4, 0.3), (1.2, -0.66), (8.8, -0.08), (11.8, -0.2), (20.9, 0.31), (22.6, 0.55), (41.9, 0.27), (46.2, 0.25)]
ci_f_wiggle = [(-6.0, 0.3), (-5.4, -0.2), (-4.8, 0.8), (-4.2, -0.7), (-3.6, 0.9), (-3.0, -1.1), (-2.4, 1.09), (-1.8, -1.24), (-1.2, 0.9),
               (-0.6, -1.0), (0.0, 0.7), (0.6, -0.6), (1.2, 0.2),
               (None, None), (8.6, 0.1), (9.4, -0.5), (10.2, 0.1), (11.0, -0.56), (11.8, -0.2),
               (None, None), (20.6, 0.3), (21.6, 0.6), (22.6, 0.5)]

ci_m_smooth = [(-11.5, 1.57), (-7.5, 0.7), (-7.0, 0.4), (3.8, 0.45), (9.4, 0.3), (12.4, -0.1), (15.7, -0.37), (21.9, -0.43), (95.0, -0.47)]
ci_m_wiggle = [(-7.0, 0.4), (-6.0, 0.2), (-5.0, 0.6), (-4.2, -1.2), (-3.6, 0.9), (-3.0, -1.44), (-2.4, 1.0), (-1.8, -1.3), (-1.2, 0.9),
               (-0.6, -1.1), (0.0, 0.6), (0.6, 0.2), (1.6, 0.55), (2.6, 0.3), (3.8, 0.45),
               (None, None), (8.4, 0.4), (9.2, -0.1), (10.0, 0.4), (10.8, -0.4), (11.6, 0.0), (12.4, -0.3),
               (None, None), (20.6, -0.5), (21.6, -0.3), (22.6, -0.5)]

# Highlighted point in the male panels
bnt_m_mark = (-0.8, -2.8)
sn_m_mark = (-2.9, -6.0)
ci_m_mark = (-4.2, -2.7)

x_ticks = [0, 20, 40, 60, 80]
bnt_y_ticks = [-15, -10, -5, 0, 5, 10]
bnt_y_labels = ["-15", "", "-5", "0", "5", "10"]
sn_y_ticks = [-20, -10, 0, 10]
sn_y_labels = ["-20", "-10", "0", "10"]
ci_y_ticks = [-10, -5, 0, 5]
ci_y_labels = ["-10", "-5", "0", "5"]

test_titles = ["Boston Naming Test", "NEPSY: Speeded Naming", "NEPSY: Comprehension of Instructions"]
sex_titles = ["Females", "Males"]
x_title = "Residuals from Model with PreNatThimer as Outcome Measure"
y_title = "Residuals from Model minus PreNatThimer"
legend_labels = ["Regression Line", "Scatterplot Smoother", "Horizontal Line at 0"]

# ---------------------------------------------------------------------------
# Layout of the 3 x 2 grid (pixel boxes of each plotting region)
# ---------------------------------------------------------------------------
COL_PX = [(86, 514), (640, 1068)]
ROW_PX = [(72, 368), (554, 851), (1036, 1333)]
TITLE_Y = [21, 503, 986]
SUB_Y = [52, 534, 1016]
XTITLE_Y = [440, 922, 1404]
LEGEND_PX = {  # text right edge, text rows, sample x-span, sample rows
    0: (989, [330, 342, 354], (1010, 1048), [327, 340, 352]),
    1: (979, [812, 824, 836], (1001, 1039), [809, 822, 833]),
    2: (986, [1294, 1306, 1318], (1009, 1046), [1292, 1305, 1316]),
}

panels = [
    dict(row=0, col=0, pts=bnt_f_pts + bnt_f_core + bnt_f_inner, fit=bnt_f_fit, smooth=bnt_f_smooth,
         wiggle=bnt_f_wiggle, mark=None, xr=(-16.0, 98.13), yr=(-17.69, 14.84), yt=bnt_y_ticks, yl=bnt_y_labels),
    dict(row=0, col=1, pts=bnt_m_pts + bnt_m_core + bnt_m_inner, fit=bnt_m_fit, smooth=bnt_m_smooth,
         wiggle=bnt_m_wiggle, mark=bnt_m_mark, xr=(-15.73, 98.4), yr=(-17.69, 14.84), yt=bnt_y_ticks, yl=bnt_y_labels),
    dict(row=1, col=0, pts=sn_f_pts + sn_f_core + sn_f_inner, fit=sn_f_fit, smooth=sn_f_smooth,
         wiggle=sn_f_wiggle, mark=None, xr=(-11.95, 99.2), yr=(-23.2, 17.8), yt=sn_y_ticks, yl=sn_y_labels),
    dict(row=1, col=1, pts=sn_m_pts + sn_m_core + sn_m_inner, fit=sn_m_fit, smooth=sn_m_smooth,
         wiggle=sn_m_wiggle, mark=sn_m_mark, xr=(-11.95, 99.2), yr=(-23.2, 17.8), yt=sn_y_ticks, yl=sn_y_labels),
    dict(row=2, col=0, pts=ci_f_pts + ci_f_core + ci_f_inner, fit=ci_f_fit, smooth=ci_f_smooth,
         wiggle=ci_f_wiggle, mark=None, xr=(-15.84, 99.06), yr=(-10.76, 6.51), yt=ci_y_ticks, yl=ci_y_labels),
    dict(row=2, col=1, pts=ci_m_pts + ci_m_core + ci_m_inner, fit=ci_m_fit, smooth=ci_m_smooth,
         wiggle=ci_m_wiggle, mark=ci_m_mark, xr=(-15.5, 98.9), yr=(-10.76, 6.51), yt=ci_y_ticks, yl=ci_y_labels),
]


def px_x(v):
    return v / W


def px_y(v):
    return 1 - v / H


def unzip(pairs):
    return [p[0] for p in pairs], [p[1] for p in pairs]


fig = go.Figure()
layout_extra = {}
annotations = []
shapes = []

for i, p in enumerate(panels):
    n = i + 1
    xa, ya = ("x", "y") if n == 1 else (f"x{n}", f"y{n}")
    cx0, cx1 = COL_PX[p["col"]]
    ry0, ry1 = ROW_PX[p["row"]]
    axis_common = dict(showgrid=False, zeroline=False, showline=True, mirror=True, linecolor="black",
                       linewidth=1, ticks="outside", ticklen=7, tickwidth=1, tickcolor="black",
                       tickfont=dict(family=FONT, size=18, color="black"), fixedrange=True)
    layout_extra["xaxis" if n == 1 else f"xaxis{n}"] = dict(
        axis_common, domain=[px_x(cx0), px_x(cx1)], range=list(p["xr"]), anchor=ya,
        tickvals=x_ticks, ticktext=[str(t) for t in x_ticks], ticklabelstandoff=11)
    layout_extra["yaxis" if n == 1 else f"yaxis{n}"] = dict(
        axis_common, domain=[px_y(ry1), px_y(ry0)], range=list(p["yr"]), anchor=xa,
        tickvals=p["yt"], ticktext=p["yl"], tickangle=-90, ticklabelstandoff=5)

    xs, ys = unzip(p["pts"])
    fig.add_trace(go.Scatter(x=xs, y=ys, mode="markers", xaxis=xa, yaxis=ya, hoverinfo="skip",
                             marker=dict(symbol="circle-open", size=8.7, color="black", line=dict(width=1.1))))
    x0, x1 = p["xr"]
    fig.add_trace(go.Scatter(x=[x0, x1], y=[0, 0], mode="lines", xaxis=xa, yaxis=ya, hoverinfo="skip",
                             line=dict(color="black", width=1.4, dash="2px,7px")))
    a, b = p["fit"]
    fig.add_trace(go.Scatter(x=[x0, x1], y=[a + b * x0, a + b * x1], mode="lines", xaxis=xa, yaxis=ya,
                             hoverinfo="skip", line=dict(color="black", width=1.3)))
    sx, sy = unzip(p["smooth"])
    fig.add_trace(go.Scatter(x=sx, y=sy, mode="lines", xaxis=xa, yaxis=ya, hoverinfo="skip",
                             line=dict(color=ORANGE, width=4.5, dash="11px,4px,2px,4px")))
    wx, wy = unzip(p["wiggle"])
    fig.add_trace(go.Scatter(x=wx, y=wy, mode="lines", xaxis=xa, yaxis=ya, hoverinfo="skip",
                             connectgaps=False, line=dict(color=ORANGE, width=7)))
    if p["mark"] is not None:
        fig.add_trace(go.Scatter(x=[p["mark"][0]], y=[p["mark"][1]], mode="markers", xaxis=xa, yaxis=ya,
                                 hoverinfo="skip", marker=dict(symbol="diamond", size=21, color=GREEN)))

    # panel subtitle and x-axis title
    cx_mid = (cx0 + cx1) / 2
    annotations.append(dict(text=sex_titles[p["col"]], x=px_x(cx_mid), y=px_y(SUB_Y[p["row"]]),
                            xref="paper", yref="paper", showarrow=False, xanchor="center", yanchor="middle",
                            font=dict(family=FONT, size=30, color="black")))
    annotations.append(dict(text=x_title, x=px_x(cx_mid - 3), y=px_y(XTITLE_Y[p["row"]]),
                            xref="paper", yref="paper", showarrow=False, xanchor="center", yanchor="middle",
                            font=dict(family=FONT, size=15, color="black")))

    # legend block in the male panels
    if p["col"] == 1:
        tr, trows, (lx0, lx1), lrows = LEGEND_PX[p["row"]]
        for lab, ty in zip(legend_labels, trows):
            annotations.append(dict(text=lab, x=px_x(tr), y=px_y(ty), xref="paper", yref="paper",
                                    showarrow=False, xanchor="right", yanchor="middle",
                                    font=dict(family=FONT, size=12, color="black")))
        shapes.append(dict(type="line", xref="paper", yref="paper", x0=px_x(lx0), x1=px_x(lx1),
                           y0=px_y(lrows[0]), y1=px_y(lrows[0]), line=dict(color="black", width=1.3)))
        shapes.append(dict(type="circle", xref="paper", yref="paper", x0=px_x(lx0), x1=px_x(lx0 + 7),
                           y0=px_y(lrows[1] + 3.5), y1=px_y(lrows[1] - 3.5), fillcolor=ORANGE,
                           line=dict(color=ORANGE, width=0)))
        shapes.append(dict(type="line", xref="paper", yref="paper", x0=px_x(lx0 + 14), x1=px_x(lx1),
                           y0=px_y(lrows[1]), y1=px_y(lrows[1]), line=dict(color=ORANGE, width=6)))
        shapes.append(dict(type="circle", xref="paper", yref="paper", x0=px_x(lx0 + 16), x1=px_x(lx0 + 24),
                           y0=px_y(lrows[1] + 4.5), y1=px_y(lrows[1] - 4.5), fillcolor=ORANGE,
                           line=dict(color=ORANGE, width=0)))
        shapes.append(dict(type="line", xref="paper", yref="paper", x0=px_x(lx0), x1=px_x(lx1),
                           y0=px_y(lrows[2]), y1=px_y(lrows[2]),
                           line=dict(color="black", width=1.4, dash="2px,9px")))

# row titles and the shared y-axis titles
for r in range(3):
    annotations.append(dict(text=test_titles[r], x=px_x(565), y=px_y(TITLE_Y[r]), xref="paper", yref="paper",
                            showarrow=False, xanchor="center", yanchor="middle",
                            font=dict(family=FONT, size=30.5, color="black")))
    ymid = (ROW_PX[r][0] + ROW_PX[r][1]) / 2
    annotations.append(dict(text=y_title, x=px_x(18), y=px_y(ymid), xref="paper", yref="paper",
                            showarrow=False, xanchor="center", yanchor="middle", textangle=-90,
                            font=dict(family=FONT, size=20, color="black")))

fig.update_layout(
    width=W, height=H, margin=dict(l=0, r=0, t=0, b=0),
    paper_bgcolor="white", plot_bgcolor="white", showlegend=False,
    annotations=annotations, shapes=shapes, **layout_extra,
)

fig.write_html("out.html")
